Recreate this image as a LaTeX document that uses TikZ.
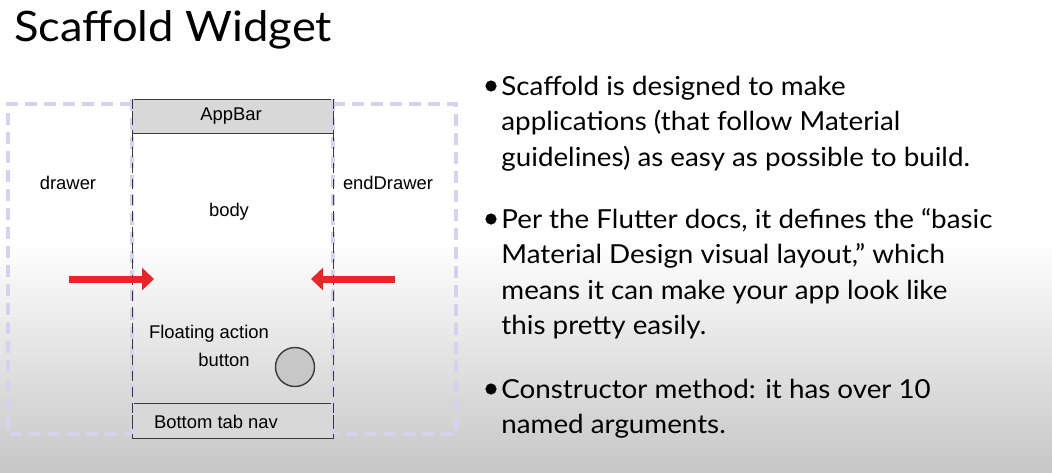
\documentclass[tikz,border=0pt]{standalone}
\usepackage{fontspec}
\setmainfont{Lato}[FakeStretch=1.06]
\newfontfamily\titlef{Lato}[FakeStretch=1.08]
\newfontfamily\arialf{Liberation Sans}
\usetikzlibrary{arrows.meta}
\definecolor{lav}{HTML}{D3D3EC}
\definecolor{barg}{HTML}{D8D8D8}
\definecolor{redar}{HTML}{E8262A}
\definecolor{edge}{HTML}{3A3A3A}
\tikzset{
  dlab/.style={font=\arialf\fontsize{9.2pt}{11pt}\selectfont, inner sep=0pt},
  line/.style={font=\fontsize{13.1pt}{15pt}\selectfont, anchor=base west, inner sep=0pt},
  lavdash/.style={draw=lav, line width=2pt, dash pattern=on 6pt off 3.5pt},
  redarrow/.style={draw=redar, line width=3.5pt, -{Triangle[length=6pt,width=11pt]}},
}
\begin{document}
\begin{tikzpicture}[x=0.5pt,y=-0.5pt]
\useasboundingbox (0,0) rectangle (1052,472);
\fill[white] (0,0) rectangle (1052,472);
\shade[top color=white, bottom color=barg!92!black] (0,240) rectangle (1052,472);
% title
\node[font=\titlef\fontsize{21pt}{24pt}\selectfont, anchor=base west, inner sep=0pt] (title) at (14,41) {Scaffold Widget};
% dashed outer frame (drawer / endDrawer)
\draw[lavdash] (132,104) -- (8,104) -- (8,434) -- (132,434);
\draw[lavdash] (333,104) -- (456,104) -- (456,434) -- (333,434);
% phone
\node[draw=edge, fill=barg, minimum width=100.5pt, minimum height=17pt, inner sep=0pt, anchor=north west, line width=0.6pt] (appbar) at (132,99) {};
\node[dlab] (appbartxt) at (231,116) {AppBar};
\node[draw=edge, fill=barg, minimum width=100.5pt, minimum height=17.5pt, inner sep=0pt, anchor=south west, line width=0.6pt] (bottom) at (132,439) {};
\node[dlab] (bottomtxt) at (216,422) {Bottom tab nav};
\draw[lavdash] (132,99) -- (132,439);
\draw[lavdash] (333,99) -- (333,439);
\draw[edge, line width=0.5pt, dash pattern=on 5pt off 3pt] (132,99) -- (132,439);
\draw[edge, line width=0.5pt, dash pattern=on 5pt off 3pt] (333,99) -- (333,439);
\node[dlab] (drawer) at (68,183) {drawer};
\node[dlab] (enddrawer) at (388,183) {endDrawer};
\node[dlab] (body) at (229,212) {body};
\node[dlab] (fab1) at (209,334) {Floating action};
\node[dlab] (fab2) at (224,360) {button};
\node[circle, draw=edge, fill=barg!92!black, line width=0.7pt, minimum size=19.5pt, inner sep=0pt] (fab) at (295,367) {};
% arrows
\coordinate (la) at (69,279); \coordinate (lb) at (154,279);
\coordinate (ra) at (395,279); \coordinate (rb) at (311,279);
\draw[redarrow] (la) -- (lb);
\draw[redarrow] (ra) -- (rb);
% bullets
\foreach \y/\n in {86/b1,219/b2,389/b3}{\fill (491,\y) circle (2.8pt);}
\node[line] (l1) at (501,95) {Scaffold is designed to make};
\node[line] (l2) at (501,130.5) {applications (that follow Material};
\node[line] (l3) at (501,166) {guidelines) as easy as possible to build.};
\node[line] (l4) at (501,228) {Per the Flutter docs, it defines the “basic};
\node[line] (l5) at (501,263.5) {Material Design visual layout,” which};
\node[line] (l6) at (501,299) {means it can make your app look like};
\node[line] (l7) at (501,334.5) {this pretty easily.};
\node[line] (l8) at (501,398) {Constructor method: it has over 10};
\node[line] (l9) at (501,433.5) {named arguments.};
\end{tikzpicture}
\end{document}
